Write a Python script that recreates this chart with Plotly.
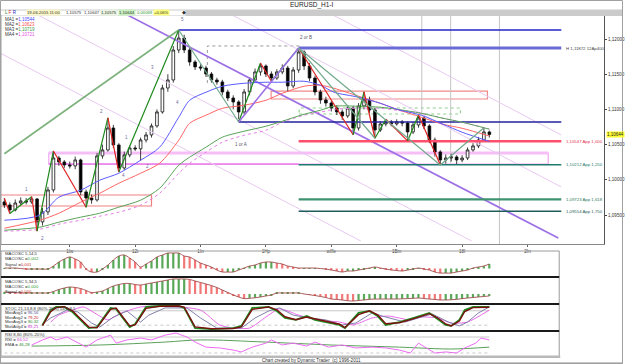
import plotly.graph_objects as go

W, H = 625, 364
FONT = "Liberation Sans, Arial, sans-serif"

# ---------------- data ----------------
bar_hours = list(range(0, 180, 2))  # hours since 10-Jun-2015 00:00 (weekend skipped), 2h candles

opens = [1.09686, 1.09643, 1.09572, 1.09671, 1.09700, 1.09686, 1.09728, 1.09402, 1.09544, 1.09856,
         1.10310, 1.10254, 1.10211, 1.10197, 1.10282, 1.09828, 1.09742, 1.09714, 1.10339, 1.10424,
         1.10736, 1.10495, 1.10168, 1.10353, 1.10452, 1.10440, 1.10566, 1.10637, 1.10765, 1.10964,
         1.11304, 1.11418, 1.11844, 1.12014, 1.11844, 1.11674, 1.11603, 1.11588, 1.11503, 1.11418,
         1.11390, 1.11248, 1.11162, 1.11106, 1.10964, 1.11248, 1.11418, 1.11532, 1.11617, 1.11503,
         1.11446, 1.11532, 1.11588, 1.11333, 1.11560, 1.11816, 1.11617, 1.11446, 1.11248, 1.11134,
         1.11091, 1.11020, 1.10964, 1.10907, 1.11020, 1.10736, 1.11049, 1.11134, 1.10992, 1.10708,
         1.10793, 1.10822, 1.10793, 1.10822, 1.10807, 1.10680, 1.10779, 1.10878, 1.10765, 1.10566,
         1.10396, 1.10282, 1.10310, 1.10325, 1.10282, 1.10310, 1.10424, 1.10481, 1.10566, 1.10680]
highs = [1.09740, 1.09680, 1.09720, 1.09750, 1.09740, 1.09760, 1.09740, 1.09600, 1.09900, 1.10410,
         1.10340, 1.10280, 1.10260, 1.10330, 1.10300, 1.09860, 1.09790, 1.10380, 1.10500, 1.10880,
         1.10780, 1.10520, 1.10400, 1.10490, 1.10490, 1.10600, 1.10680, 1.10800, 1.11000, 1.11350,
         1.11500, 1.11900, 1.12128, 1.12060, 1.11880, 1.11700, 1.11640, 1.11620, 1.11530, 1.11450,
         1.11420, 1.11280, 1.11200, 1.11130, 1.11290, 1.11460, 1.11580, 1.11660, 1.11640, 1.11540,
         1.11570, 1.11640, 1.11620, 1.11600, 1.11872, 1.11840, 1.11660, 1.11480, 1.11280, 1.11180,
         1.11120, 1.11060, 1.11000, 1.11060, 1.11050, 1.11090, 1.11250, 1.11180, 1.11020, 1.10830,
         1.10860, 1.10850, 1.10860, 1.10850, 1.10830, 1.10820, 1.10920, 1.10900, 1.10790, 1.10600,
         1.10420, 1.10360, 1.10370, 1.10350, 1.10350, 1.10460, 1.10520, 1.10610, 1.10740, 1.10700]
lows = [1.09600, 1.09520, 1.09550, 1.09640, 1.09650, 1.09660, 1.09270, 1.09350, 1.09500, 1.09820,
        1.10200, 1.10170, 1.10160, 1.10150, 1.09780, 1.09610, 1.09660, 1.09690, 1.10300, 1.10400,
        1.10450, 1.10110, 1.10140, 1.10320, 1.10410, 1.10270, 1.10530, 1.10600, 1.10740, 1.10940,
        1.11250, 1.11380, 1.11800, 1.11800, 1.11620, 1.11560, 1.11550, 1.11460, 1.11380, 1.11350,
        1.11200, 1.11120, 1.11000, 1.10821, 1.10930, 1.11200, 1.11380, 1.11480, 1.11460, 1.11400,
        1.11420, 1.11500, 1.11250, 1.11300, 1.11520, 1.11560, 1.11400, 1.11200, 1.11080, 1.11040,
        1.10970, 1.10920, 1.10850, 1.10880, 1.10640, 1.10700, 1.11000, 1.10950, 1.10590, 1.10680,
        1.10760, 1.10760, 1.10770, 1.10760, 1.10552, 1.10650, 1.10740, 1.10720, 1.10520, 1.10330,
        1.10210, 1.10230, 1.10260, 1.10220, 1.10250, 1.10280, 1.10400, 1.10450, 1.10540, 1.10600]
closes = [1.09643, 1.09572, 1.09671, 1.09700, 1.09686, 1.09728, 1.09402, 1.09544, 1.09856, 1.10310,
          1.10254, 1.10211, 1.10197, 1.10282, 1.09828, 1.09742, 1.09714, 1.10339, 1.10424, 1.10736,
          1.10495, 1.10168, 1.10353, 1.10452, 1.10440, 1.10566, 1.10637, 1.10765, 1.10964, 1.11304,
          1.11418, 1.11844, 1.12014, 1.11844, 1.11674, 1.11603, 1.11588, 1.11503, 1.11418, 1.11390,
          1.11248, 1.11162, 1.11106, 1.10964, 1.11248, 1.11418, 1.11532, 1.11617, 1.11503, 1.11446,
          1.11532, 1.11588, 1.11333, 1.11560, 1.11816, 1.11617, 1.11446, 1.11248, 1.11134, 1.11091,
          1.11020, 1.10964, 1.10907, 1.11020, 1.10736, 1.11049, 1.11134, 1.10992, 1.10708, 1.10793,
          1.10822, 1.10793, 1.10822, 1.10807, 1.10680, 1.10779, 1.10878, 1.10765, 1.10566, 1.10396,
          1.10282, 1.10310, 1.10325, 1.10282, 1.10310, 1.10424, 1.10481, 1.10566, 1.10680, 1.10644]

ma_hours = [0, 13, 20, 28, 35, 42, 50, 57, 64, 68, 74, 80, 88, 96, 102, 110, 116, 121, 130, 138, 144, 153, 161, 168, 178]
ma1_values = [1.09426, 1.09497, 1.09753, 1.09852, 1.09994, 1.10093, 1.10278, 1.10463, 1.10889, 1.11130,
              1.11244, 1.11329, 1.11371, 1.11386, 1.11386, 1.11400, 1.11343, 1.11244, 1.11173, 1.11087,
              1.11002, 1.10917, 1.10789, 1.10676, 1.10544]
ma2_values = [1.09312, 1.09426, 1.09525, 1.09682, 1.09809, 1.09951, 1.10093, 1.10235, 1.10562, 1.10803,
              1.10917, 1.11016, 1.11059, 1.11130, 1.11229, 1.11329, 1.11343, 1.11300, 1.11187, 1.11087,
              1.11002, 1.10889, 1.10789, 1.10732, 1.10623]
ma3_values = [1.09284, 1.09327, 1.09398, 1.09469, 1.09525, 1.09611, 1.09710, 1.09880, 1.10207, 1.10321,
              1.10463, 1.10605, 1.10690, 1.10761, 1.10832, 1.10931, 1.10988, 1.11045, 1.11045, 1.11031,
              1.11002, 1.10945, 1.10874, 1.10818, 1.10719]
ma4_values = [1.09270, 1.09298, 1.09369, 1.09426, 1.09483, 1.09540, 1.09639, 1.09809, 1.10093, 1.10235,
              1.10392, 1.10534, 1.10633, 1.10704, 1.10818, 1.10917, 1.10960, 1.11002, 1.11016, 1.11016,
              1.10988, 1.10945, 1.10874, 1.10818, 1.10721]

# swing (zigzag) pivots: candle index + which extreme
zz_bars = [0, 1, 5, 6, 9, 15, 19, 21, 32, 43, 47, 49, 54, 64, 66, 68, 70, 74, 76, 80, 88]
zz_sides = "HLHLHLHLHLHLHLHLHLHLH"
zz_kinds = ["dn", "up", "dn", "up", "dn", "up", "dn", "up", "alt", "up", "dn", "up",
            "dn", "up", "dn", "up", "dn", "up", "dn", "alt"]

# drawn trend lines: (hour0, price0, hour1, price1)
olive_line = (0, 1.10370, 64, 1.12128)
ab_line = (86, 1.10821, 108, 1.11872)
b_fan_lines = [(108, 1.11872, 160, 1.10210), (108, 1.11872, 136, 1.10590)]
channel_line = (45.2, 1.12341, 203.3, 1.09173)
pitch_lines = [(120.6, 1.12341, 204.4, 1.10636), (83.6, 1.12341, 204.4, 1.09898),
               (12.3, 1.12341, 171.5, 1.09131), (-1.6, 1.11801, 130.8, 1.09131)]

# horizontal levels
level_end = 204.4
level_start = [64, 108, 86, 108, 108, 108, 108]
level_price = [1.12128, 1.11872, 1.10821, 1.10547, 1.10212, 1.09723, 1.09554]
level_text = ["", "H 1,11872 12Ap400", "", "1,10547 App 1,000", "1,10212 App 1,250",
              "1,09723 App 1,618", "1,09554 App 1,750"]

# zones: (hour0, hour1, price_low, price_high)
zone_pink = (16.3, 199.6, 1.10224, 1.10381)
zone_red1 = (-1.6, 54.0, 1.09628, 1.09784)
zone_red2 = (97.9, 177.3, 1.11148, 1.11261)
zone_green = (108.2, 167.4, 1.10935, 1.11020)
bracket = (74.5, 108.9, 1.11375, 1.11901)
time_markers = [(153.2, 1.10920), (163.8, 1.10239), (181.7, 1.09088)]

wave_text = ["5", "3", "4", "1", "2", "2", "1", "4", "2", "1 or A", "2 or B"]
wave_hours = [65.4, 54.4, 63.5, 8.3, 14.1, 35.7, 44.8, 43.7, 52.5, 86.9, 110.7]
wave_prices = [1.12270, 1.11602, 1.11105, 1.09869, 1.09173, 1.10977, 1.10608, 1.10068, 1.10182, 1.10508, 1.12028]

day_ticks = [24, 48, 72, 96, 120, 144, 168, 192]
day_labels = ["1Iw", "12t", "1In", "1Hp", "wIfle", "1Bm", "18I", "2In"]
price_ticks = [1.095, 1.100, 1.105, 1.110, 1.115, 1.120]
price_labels = ["1,09500", "1,10000", "1,10500", "1,11000", "1,11500", "1,12000"]
last_price = 1.10644

macd1 = [0.00007, 0.00007, 0.00007, 0.0, -0.00007, -0.00007, -0.00007, -0.00007, -0.00007, 0.00034,
         0.00089, 0.00130, 0.00158, 0.00130, 0.00089, -0.00007, -0.00048, -0.00048, -0.00007, 0.00048,
         0.00116, 0.00171, 0.00185, 0.00144, 0.00089, 0.00021, 0.00062, 0.00103, 0.00158, 0.00185,
         0.00212, 0.00212, 0.00212, 0.00171, 0.00158, 0.00116, 0.00075, 0.00048, 0.00021, -0.00021,
         -0.00048, -0.00048, -0.00048, -0.00021, 0.00007, 0.00034, 0.00048, 0.00075, 0.00089, 0.00089,
         0.00075, 0.00062, 0.00034, 0.00021, 0.00007, 0.00007, 0.00007, 0.00007, 0.0, -0.00007,
         -0.00021, -0.00034, -0.00048, -0.00034, -0.00034, -0.00021, -0.00007, 0.00007, 0.00021, 0.00007,
         -0.00007, -0.00021, -0.00027, -0.00034, -0.00021, -0.00007, 0.00007, -0.00007, -0.00021, -0.00048,
         -0.00062, -0.00062, -0.00062, -0.00048, -0.00034, -0.00021, 0.00007, 0.00021, 0.00034, 0.00062]
macd2 = [0.00027, 0.00021, 0.00018, 0.00014, 0.00014, 0.00014, 0.00014, 0.00014, 0.00014, 0.00034,
         0.00062, 0.00082, 0.00096, 0.00089, 0.00075, 0.00048, 0.00018, 0.00027, 0.00041, 0.00075,
         0.00110, 0.00130, 0.00144, 0.00144, 0.00130, 0.00123, 0.00137, 0.00151, 0.00164, 0.00178,
         0.00192, 0.00206, 0.00206, 0.00206, 0.00199, 0.00178, 0.00158, 0.00137, 0.00116, 0.00089,
         0.00055, 0.00021, -0.00014, -0.00041, -0.00064, -0.00059, -0.00052, -0.00041, -0.00027, -0.00014,
         0.00014, 0.00014, 0.00014, 0.00014, 0.00014, 0.0, -0.00010, -0.00021, -0.00034, -0.00048,
         -0.00069, -0.00075, -0.00082, -0.00092, -0.00096, -0.00089, -0.00082, -0.00073, -0.00069, -0.00069,
         -0.00069, -0.00069, -0.00069, -0.00066, -0.00063, -0.00059, -0.00055, -0.00062, -0.00069, -0.00075,
         -0.00082, -0.00082, -0.00079, -0.00073, -0.00064, -0.00055, -0.00048, -0.00041, -0.00034, -0.00027]

stoc_hours = [14, 17, 19, 22, 25, 31, 34, 39, 41, 46, 48, 52, 57, 64, 66, 70, 76, 84, 87, 91, 97, 100,
              103, 107, 111, 114, 118, 123, 125, 130, 134, 137, 140, 145, 150, 156, 159, 162, 164,
              167, 169, 172, 178]
stoc_fast = [21, 83, 96, 96, 75, 8, 12, 92, 88, 12, 25, 96, 100, 100, 92, 8, 4, 8, 17, 92, 96, 79,
             50, 42, 58, 42, 33, 21, 8, 71, 79, 58, 21, 33, 50, 71, 46, 21, 17, 42, 83, 96, 96]
stoc_slow = [18, 76, 93, 97, 80, 12, 9, 86, 91, 17, 21, 90, 99, 100, 95, 13, 5, 6, 13, 86, 96, 84,
             55, 43, 54, 46, 36, 24, 10, 64, 80, 63, 26, 30, 46, 68, 51, 25, 17, 37, 77, 93, 95]
stoc3_hours = [15, 17, 23, 27, 32, 35, 40, 45, 50, 53, 59, 67, 72, 78, 87, 92, 97, 101, 106, 112,
               118, 124, 129, 135, 140, 147, 152, 157, 163, 167, 170, 174, 178]
stoc3 = [33, 50, 83, 75, 29, 12, 54, 79, 33, 62, 92, 92, 50, 8, 8, 50, 79, 92, 62, 50,
         42, 21, 29, 71, 54, 33, 50, 67, 33, 17, 33, 71, 96]
stoc4_hours = [17, 20, 25, 29, 35, 38, 43, 50, 59, 72, 79, 84, 90, 96, 101, 108, 115, 123, 128, 135,
               141, 149, 152, 159, 164, 170, 178]
stoc4 = [33, 62, 83, 96, 58, 42, 71, 96, 100, 83, 21, 8, 8, 54, 88, 62, 42, 33, 21, 50,
         58, 42, 54, 50, 29, 33, 83]

rsi_hours = [10, 14, 17, 19, 23, 27, 30, 34, 36, 39, 41, 45, 50, 54, 59, 63, 67, 70, 74, 79, 84, 87,
             91, 96, 98, 102, 106, 111, 114, 119, 124, 129, 135, 140, 145, 149, 152, 156, 158, 162,
             166, 169, 173, 175, 178]
rsi = [50, 69, 80, 69, 80, 57, 42, 69, 76, 87, 57, 69, 76, 69, 87, 95, 80, 61, 42, 39, 31, 24,
       42, 57, 69, 50, 57, 46, 61, 42, 50, 39, 42, 39, 31, 20, 57, 31, 20, 24, 20, 39, 57, 76, 69]
ema_hours = [10, 35, 59, 72, 96, 120, 145, 152, 164, 178]
ema = [46, 50, 61, 69, 61, 50, 42, 39, 35, 42]

# ---------------- figure ----------------
def px(x):
    return x / W


def py(y):
    return 1 - y / H


fig = go.Figure()
shapes = []
ann = []


def seg(x0, y0, x1, y1, color, width=1, dash="solid", xa="x", ya="y"):
    fig.add_trace(go.Scatter(x=[x0, x1], y=[y0, y1], mode="lines", xaxis=xa, yaxis=ya,
                             line=dict(color=color, width=width, dash=dash), hoverinfo="skip"))


# zones and markers (below traces)
for (h0, h1, lo, hi), col in [(zone_red1, "#f08080"), (zone_red2, "#f08a8a"), (zone_green, "#8fd08f")]:
    shapes.append(dict(type="rect", xref="x", yref="y", x0=h0, x1=h1, y0=lo, y1=hi, layer="below",
                       line=dict(color=col, width=1.2, dash="dot" if col == "#8fd08f" else "solid")))
h0, h1, lo, hi = zone_pink
shapes.append(dict(type="rect", xref="x", yref="y", x0=h0, x1=h1, y0=lo, y1=hi, layer="below",
                   line=dict(color="#f2a6f2", width=1.2)))
shapes.append(dict(type="line", xref="x", yref="y", x0=h0, x1=h1, y0=hi, y1=hi, layer="below",
                   line=dict(color="#f7bdf7", width=3)))
shapes.append(dict(type="line", xref="x", yref="y", x0=h0, x1=108, y0=lo, y1=lo, layer="below",
                   line=dict(color="#e45ce4", width=1)))
b0, b1, blo, bhi = bracket
shapes.append(dict(type="path", xref="x", yref="y", layer="below",
                   path=f"M{b0},{blo} L{b0},{bhi} L{b1},{bhi}", line=dict(color="#9a9a9a", width=1, dash="dot")))
for th, tp in time_markers:
    shapes.append(dict(type="line", xref="x", yref="y", x0=th, x1=th, y0=tp, y1=1.12341, layer="below",
                       line=dict(color="#c4c4c4", width=1)))

# pitchfork style lines
for (a, b, c, d) in pitch_lines:
    seg(a, b, c, d, "#e9c9f2", 1)
seg(*channel_line, "#9d70e6", 1.6)
seg(*olive_line, "#7db27d", 1.6)

# horizontal levels
level_style = [("#2323c8", 1.5), ("#6b6bd8", 3), ("#23239e", 1.5), ("#ff4f6c", 2.5),
               ("#1f7a6e", 1.5), ("#3e9270", 2.2), ("#1f5d5a", 1.5)]
label_color = ["#333", "#444", "#333", "#e03050", "#1f7a6e", "#2e7a5a", "#1f5d5a"]
for s, p, (c, w) in zip(level_start, level_price, level_style):
    seg(s, p, level_end, p, c, w)
for p, t, lc in zip(level_price, level_text, label_color):
    if t:
        ann.append(dict(x=205.3, y=p, xref="x", yref="y", text=t, showarrow=False, xanchor="left",
                        font=dict(size=4.3, color=lc, family=FONT)))

# moving averages
for vals, col, dash in [(ma4_values, "#e57de5", "dot"), (ma3_values, "#5aa25a", "solid"),
                        (ma2_values, "#ff6666", "solid"), (ma1_values, "#5a5aff", "solid")]:
    fig.add_trace(go.Scatter(x=ma_hours, y=vals, mode="lines", line=dict(color=col, width=1, dash=dash,
                  shape="spline", smoothing=0.8), hoverinfo="skip"))

# candles
fig.add_trace(go.Candlestick(x=bar_hours, open=opens, high=highs, low=lows, close=closes,
                             increasing=dict(line=dict(color="#111", width=0.8), fillcolor="#ffffff"),
                             decreasing=dict(line=dict(color="#111", width=0.8), fillcolor="#000000"),
                             whiskerwidth=0, hoverinfo="skip"))

# zigzag
kind_color = {"up": "#1e8a1e", "dn": "#e02222", "alt": "#72a98c"}
for k in range(len(zz_bars) - 1):
    a, b = zz_bars[k], zz_bars[k + 1]
    pa = highs[a] if zz_sides[k] == "H" else lows[a]
    pb = highs[b] if zz_sides[k + 1] == "H" else lows[b]
    seg(bar_hours[a], pa, bar_hours[b], pb, kind_color[zz_kinds[k]], 1.2)
seg(*ab_line, "#9d70e6", 1.6)
for ln in b_fan_lines:
    seg(*ln, "#72a98c", 1.2)

for t, hh, pp in zip(wave_text, wave_hours, wave_prices):
    ann.append(dict(x=hh, y=pp, xref="x", yref="y", text=t, showarrow=False,
                    font=dict(size=4.5, color="#556" if "or" in t else "#6a6a9a", family=FONT)))

# ---- sub panels ----
def up_down_colors(vals):
    out = []
    for i, v in enumerate(vals):
        prev = vals[i - 1] if i else v
        out.append("#58a858" if v >= prev else "#f27878")
    return out


fig.add_trace(go.Bar(x=bar_hours, y=macd1, width=0.8, marker=dict(color=up_down_colors(macd1), line=dict(width=0)),
                     xaxis="x2", yaxis="y2", hoverinfo="skip"))
fig.add_trace(go.Scatter(x=bar_hours, y=macd1, mode="lines", line=dict(color="#a04c4c", width=0.9, shape="spline"),
                         xaxis="x2", yaxis="y2", hoverinfo="skip"))
fig.add_trace(go.Bar(x=bar_hours, y=macd2, width=0.8, marker=dict(color=up_down_colors(macd2), line=dict(width=0)),
                     xaxis="x2", yaxis="y3", hoverinfo="skip"))
fig.add_trace(go.Scatter(x=bar_hours, y=macd2, mode="lines", line=dict(color="#a04c4c", width=0.9, shape="spline"),
                         xaxis="x2", yaxis="y3", hoverinfo="skip"))

for lvl, dsh in [(80, "solid"), (20, "dot")]:
    seg(0, lvl, 178, lvl, "#c8c8c8", 1, dsh, "x2", "y4")
    seg(0, lvl, 178, lvl, "#c8c8c8", 1, dsh, "x2", "y5")
fig.add_trace(go.Scatter(x=stoc4_hours, y=stoc4, mode="lines", line=dict(color="#e86ae8", width=1, shape="spline", smoothing=0.6),
                         xaxis="x2", yaxis="y4", hoverinfo="skip"))
fig.add_trace(go.Scatter(x=stoc3_hours, y=stoc3, mode="lines", line=dict(color="#8080aa", width=1),
                         xaxis="x2", yaxis="y4", hoverinfo="skip"))
fig.add_trace(go.Scatter(x=stoc_hours, y=stoc_fast, mode="lines", line=dict(color="#1f8a1f", width=1.8),
                         xaxis="x2", yaxis="y4", hoverinfo="skip"))
fig.add_trace(go.Scatter(x=stoc_hours, y=stoc_slow, mode="lines", line=dict(color="#7a1010", width=1.4),
                         xaxis="x2", yaxis="y4", hoverinfo="skip"))
fig.add_trace(go.Scatter(x=ema_hours, y=ema, mode="lines", line=dict(color="#5aa05a", width=1, shape="spline"),
                         xaxis="x2", yaxis="y5", hoverinfo="skip"))
fig.add_trace(go.Scatter(x=rsi_hours, y=rsi, mode="lines", line=dict(color="#ec6cf2", width=1),
                         xaxis="x2", yaxis="y5", hoverinfo="skip"))

# ---- decorations (paper) ----
def prect(x0, y0, x1, y1, fill=None, line=None, lw=1):
    shapes.append(dict(type="rect", xref="paper", yref="paper", x0=px(x0), x1=px(x1), y0=py(y1), y1=py(y0),
                       fillcolor=fill or "rgba(0,0,0,0)", line=dict(color=line or "rgba(0,0,0,0)", width=lw),
                       layer="above"))


def pline(x0, y0, x1, y1, color, lw=1):
    shapes.append(dict(type="line", xref="paper", yref="paper", x0=px(x0), x1=px(x1), y0=py(y0), y1=py(y1),
                       line=dict(color=color, width=lw), layer="above"))


prect(0, 9.5, 625, 16, fill="#cbcbcb")
prect(1, 10.5, 186, 15.5, fill="#ffffff")
pline(1, 15, 1, 244, "#9a9a9a")
# sub panel frame
prect(1, 251, 561, 357, line="#9a9a9a")
for yy in (277, 304, 331):
    pline(1, yy, 561, yy, "#1a1a1a", 1.8)
prect(0, 355.5, 562, 358, fill="#b9b9b9")
prect(0, 362, 625, 364, fill="#c6c6c6")
prect(0.5, 0.5, 624.5, 363.5, line="#a0a0a0")

def pann(x, y, text, size=4.5, color="#222", anchor="left", bg=None):
    d = dict(x=px(x), y=py(y), xref="paper", yref="paper", text=text, showarrow=False, xanchor=anchor,
             yanchor="middle", font=dict(size=size, color=color, family=FONT))
    if bg:
        d["bgcolor"] = bg
        d["borderpad"] = 0
    ann.append(d)


pann(313, 5, "EURUSD_H1-I", 6.5, "#222", "center")
pann(3, 13, "<span style='color:#2a8a2a'>L</span> <span style='color:#d02020'>F</span> <span style='color:#2020c0'>R</span>", 4.5)
pann(26, 13, "19-06-2015 11:00", 4.2, "#333", bg="#fbf7c8")
pann(64, 13, "1,10575", 4.2, "#333")
pann(82, 13, "1,10647", 4.2, "#333")
pann(100, 13, "1,10575", 4.2, "#333", bg="#e8f4e0")
pann(118, 13, "1,10644", 4.2, "#333", bg="#c8f0c0")
pann(135, 13, "0,00069", 4.2, "#2a9a2a")
pann(153, 13, "+0,06%", 4.2, "#333", bg="#ffff80")
pann(181, 13, "\u25c6", 4.5, "#333")

ma_legend = [("MA1", "1,10544", "#4a4aff"), ("MA2", "1,10623", "#ff4a4a"),
             ("MA3", "1,10719", "#3a9a3a"), ("MA4", "1,10721", "#e050e0")]
for k, (n, v, c) in enumerate(ma_legend):
    pann(3, 19.5 + 5 * k, f"{n} =<span style='color:{c}'>{v}</span>", 4.5, "#333")

panel_lines = [
    (253, "MACOSC 5,14,5"), (258.5, "MACOSC =<span style='color:#2e9a2e'>0,002</span>"),
    (264, "Signal =<span style='color:#c03030'>0,001</span>"),
    (281, "MACOSC 5,34,5"), (286, "MACOSC =<span style='color:#2e9a2e'>0,000</span>"),
    (291, "Signal =<span style='color:#c03030'>0,000</span>"),
    (308, "STOC 21,13,8,8 (80%-20%) 14,8,8,5"), (312.7, "MovAvg1 = <span style='color:#5a5a9a'>96,56</span>"),
    (317.2, "MovAvg2 = <span style='color:#d02020'>79,20</span>"), (321.7, "MovAvg3 = <span style='color:#2a8a2a'>90,32</span>"),
    (326.2, "MovAvg4 = <span style='color:#d040d0'>83,21</span>"),
    (334, "RSI 8,80 (80%-20%)"), (339, "RSI = <span style='color:#d040d0'>66,52</span>"),
    (344, "EMA = <span style='color:#2a8a2a'>46,28</span>"),
]
for yy, t in panel_lines:
    pann(3, yy, t, 4.3, "#333")

pann(313, 360.3, "Chart created by Dynamic Trader  (c) 1996-2011", 4.6, "#333", "center")
ann.append(dict(x=px(607.5), y=last_price, xref="paper", yref="y", text="1,10644", showarrow=False,
                xanchor="left", yanchor="middle", bgcolor="#ffff33", borderpad=0,
                font=dict(size=4.5, color="#222", family=FONT)))

axis_off = dict(visible=False, fixedrange=True)
fig.update_layout(
    width=W, height=H, margin=dict(l=0, r=0, t=0, b=0), showlegend=False,
    paper_bgcolor="#ffffff", plot_bgcolor="#ffffff", barmode="overlay",
    font=dict(family=FONT, size=5, color="#222"),
    xaxis=dict(domain=[px(1), px(606)], range=[-1.24, 220.1], anchor="y", rangeslider=dict(visible=False),
               tickvals=day_ticks, ticktext=day_labels, tickfont=dict(size=4.6, color="#333"),
               ticks="outside", ticklen=2, tickcolor="#666", showline=True, linecolor="#888", linewidth=1,
               showgrid=False, zeroline=False, fixedrange=True),
    yaxis=dict(domain=[py(244), py(15)], range=[1.09088, 1.12341], anchor="x", side="right",
               tickvals=price_ticks, ticktext=price_labels, tickfont=dict(size=4.6, color="#333"),
               ticks="outside", ticklen=2, tickcolor="#444", showline=True, linecolor="#555", linewidth=1,
               showgrid=False, zeroline=False, fixedrange=True),
    xaxis2=dict(domain=[px(1), px(561)], range=[-1.24, 203.66], anchor="y5", **axis_off),
    yaxis2=dict(domain=[py(277), py(251)], range=[-0.00116, 0.0024], anchor="x2", **axis_off),
    yaxis3=dict(domain=[py(304), py(277)], range=[-0.00137, 0.00233], anchor="x2", **axis_off),
    yaxis4=dict(domain=[py(331), py(304)], range=[-4.2, 108.3], anchor="x2", **axis_off),
    yaxis5=dict(domain=[py(357), py(331)], range=[5, 102.5], anchor="x2", **axis_off),
    shapes=shapes, annotations=ann,
)

fig.write_html("out.html")
